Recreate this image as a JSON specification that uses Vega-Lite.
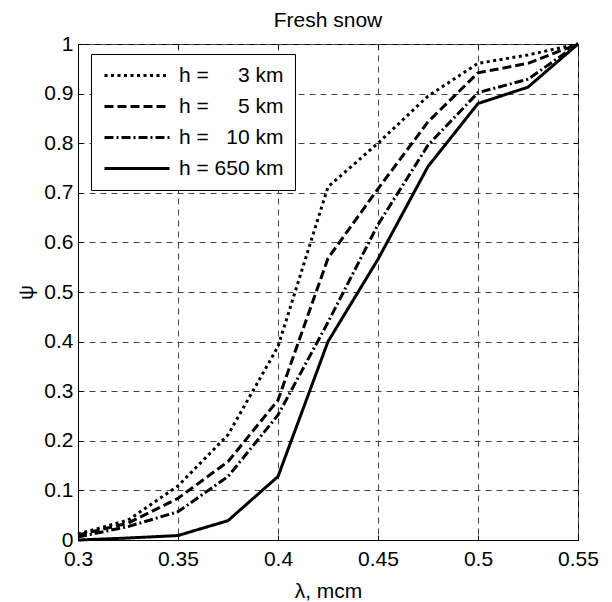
{
  "$schema": "https://vega.github.io/schema/vega-lite/v6.json",
  "width": 500,
  "height": 496,
  "autosize": {"type": "none"},
  "padding": {"left": 78, "top": 44, "right": 34, "bottom": 62},
  "background": "white",
  "title": {"text": "Fresh snow", "font": "Liberation Sans", "fontSize": 21, "fontWeight": "normal", "color": "black", "offset": 2, "anchor": "middle"},
  "data": {"values": [
    {"x": 0.3, "y": 0.012, "h": "h = \u00a0\u00a0\u00a0\u00a03 km"},
    {"x": 0.325, "y": 0.04, "h": "h = \u00a0\u00a0\u00a0\u00a03 km"},
    {"x": 0.35, "y": 0.109, "h": "h = \u00a0\u00a0\u00a0\u00a03 km"},
    {"x": 0.375, "y": 0.212, "h": "h = \u00a0\u00a0\u00a0\u00a03 km"},
    {"x": 0.4, "y": 0.39, "h": "h = \u00a0\u00a0\u00a0\u00a03 km"},
    {"x": 0.425, "y": 0.712, "h": "h = \u00a0\u00a0\u00a0\u00a03 km"},
    {"x": 0.45, "y": 0.8, "h": "h = \u00a0\u00a0\u00a0\u00a03 km"},
    {"x": 0.475, "y": 0.895, "h": "h = \u00a0\u00a0\u00a0\u00a03 km"},
    {"x": 0.5, "y": 0.961, "h": "h = \u00a0\u00a0\u00a0\u00a03 km"},
    {"x": 0.525, "y": 0.978, "h": "h = \u00a0\u00a0\u00a0\u00a03 km"},
    {"x": 0.55, "y": 1.0, "h": "h = \u00a0\u00a0\u00a0\u00a03 km"},
    {"x": 0.3, "y": 0.01, "h": "h = \u00a0\u00a0\u00a0\u00a05 km"},
    {"x": 0.325, "y": 0.034, "h": "h = \u00a0\u00a0\u00a0\u00a05 km"},
    {"x": 0.35, "y": 0.084, "h": "h = \u00a0\u00a0\u00a0\u00a05 km"},
    {"x": 0.375, "y": 0.158, "h": "h = \u00a0\u00a0\u00a0\u00a05 km"},
    {"x": 0.4, "y": 0.282, "h": "h = \u00a0\u00a0\u00a0\u00a05 km"},
    {"x": 0.425, "y": 0.568, "h": "h = \u00a0\u00a0\u00a0\u00a05 km"},
    {"x": 0.45, "y": 0.708, "h": "h = \u00a0\u00a0\u00a0\u00a05 km"},
    {"x": 0.475, "y": 0.843, "h": "h = \u00a0\u00a0\u00a0\u00a05 km"},
    {"x": 0.5, "y": 0.942, "h": "h = \u00a0\u00a0\u00a0\u00a05 km"},
    {"x": 0.525, "y": 0.961, "h": "h = \u00a0\u00a0\u00a0\u00a05 km"},
    {"x": 0.55, "y": 1.0, "h": "h = \u00a0\u00a0\u00a0\u00a05 km"},
    {"x": 0.3, "y": 0.006, "h": "h = \u00a0\u00a010 km"},
    {"x": 0.325, "y": 0.027, "h": "h = \u00a0\u00a010 km"},
    {"x": 0.35, "y": 0.057, "h": "h = \u00a0\u00a010 km"},
    {"x": 0.375, "y": 0.128, "h": "h = \u00a0\u00a010 km"},
    {"x": 0.4, "y": 0.252, "h": "h = \u00a0\u00a010 km"},
    {"x": 0.425, "y": 0.439, "h": "h = \u00a0\u00a010 km"},
    {"x": 0.45, "y": 0.636, "h": "h = \u00a0\u00a010 km"},
    {"x": 0.475, "y": 0.796, "h": "h = \u00a0\u00a010 km"},
    {"x": 0.5, "y": 0.902, "h": "h = \u00a0\u00a010 km"},
    {"x": 0.525, "y": 0.929, "h": "h = \u00a0\u00a010 km"},
    {"x": 0.55, "y": 1.0, "h": "h = \u00a0\u00a010 km"},
    {"x": 0.3, "y": 0.0, "h": "h = 650 km"},
    {"x": 0.325, "y": 0.004, "h": "h = 650 km"},
    {"x": 0.35, "y": 0.009, "h": "h = 650 km"},
    {"x": 0.375, "y": 0.039, "h": "h = 650 km"},
    {"x": 0.4, "y": 0.128, "h": "h = 650 km"},
    {"x": 0.425, "y": 0.4, "h": "h = 650 km"},
    {"x": 0.45, "y": 0.566, "h": "h = 650 km"},
    {"x": 0.475, "y": 0.753, "h": "h = 650 km"},
    {"x": 0.5, "y": 0.88, "h": "h = 650 km"},
    {"x": 0.525, "y": 0.913, "h": "h = 650 km"},
    {"x": 0.55, "y": 1.0, "h": "h = 650 km"}
  ]},
  "layer": [
    {
      "mark": {"type": "line", "color": "black", "strokeWidth": 3, "strokeCap": "butt", "strokeJoin": "miter"},
      "encoding": {
        "x": {"field": "x", "type": "quantitative", "scale": {"domain": [0.3, 0.55], "nice": false, "zero": false},
              "axis": {"values": [0.3, 0.35, 0.4, 0.45, 0.5, 0.55], "title": "λ, mcm", "labelExpr": "datum.value == 0.3 ? '0.3' : datum.value == 0.4 ? '0.4' : datum.value == 0.5 ? '0.5' : datum.label", "titlePadding": 11, "labelPadding": 13}},
        "y": {"field": "y", "type": "quantitative", "scale": {"domain": [0, 1], "nice": false},
              "axis": {"values": [0, 0.1, 0.2, 0.3, 0.4, 0.5, 0.6, 0.7, 0.8, 0.9, 1], "title": "ψ", "labelExpr": "datum.value == 1 ? '1' : datum.value == 0 ? '0' : format(datum.value, '.1f')", "titlePadding": 7, "labelPadding": 10}},
        "strokeDash": {"field": "h", "type": "nominal",
          "scale": {"domain": ["h = \u00a0\u00a0\u00a0\u00a03 km", "h = \u00a0\u00a0\u00a0\u00a05 km", "h = \u00a0\u00a010 km", "h = 650 km"],
                    "range": [[3, 3.5], [9, 4], [9, 3, 2, 3], [1, 0]]},
          "legend": {"title": null, "orient": "none", "legendX": 13, "legendY": 10, "symbolType": "M-1,0H7.125", "symbolSize": 256, "symbolStrokeWidth": 3, "symbolStrokeColor": "black", "symbolFillColor": "transparent", "labelFont": "Liberation Sans", "labelFontSize": 21, "labelColor": "black", "labelOffset": 56, "padding": 11, "rowPadding": 9, "strokeColor": "black", "fillColor": "white", "labelLimit": 300}}
      }
    },
    {
      "mark": {"type": "line", "strokeOpacity": 0},
      "encoding": {
        "x": {"field": "x", "type": "quantitative", "axis": {"orient": "top", "values": [0.3, 0.35, 0.4, 0.45, 0.5, 0.55], "labels": false, "grid": false, "domain": false, "title": null}},
        "y": {"field": "y", "type": "quantitative", "axis": {"orient": "right", "values": [0, 0.1, 0.2, 0.3, 0.4, 0.5, 0.6, 0.7, 0.8, 0.9, 1], "labels": false, "grid": false, "domain": false, "title": null}},
        "detail": {"field": "h"}
      }
    }
  ],
  "resolve": {"axis": {"x": "independent", "y": "independent"}},
  "config": {
    "view": {"stroke": "black", "strokeWidth": 1},
    "axis": {
      "labelFont": "Liberation Sans", "labelFontSize": 21, "labelColor": "black", "labelFlush": false, "labelOverlap": false,
      "titleFont": "Liberation Sans", "titleFontSize": 21, "titleFontWeight": "normal", "titleColor": "black",
      "domainColor": "black", "tickColor": "black", "tickSize": -5,
      "grid": true, "gridColor": "#444", "gridDash": [6, 5], "gridWidth": 1, "gridOpacity": 1
    }
  }
}
